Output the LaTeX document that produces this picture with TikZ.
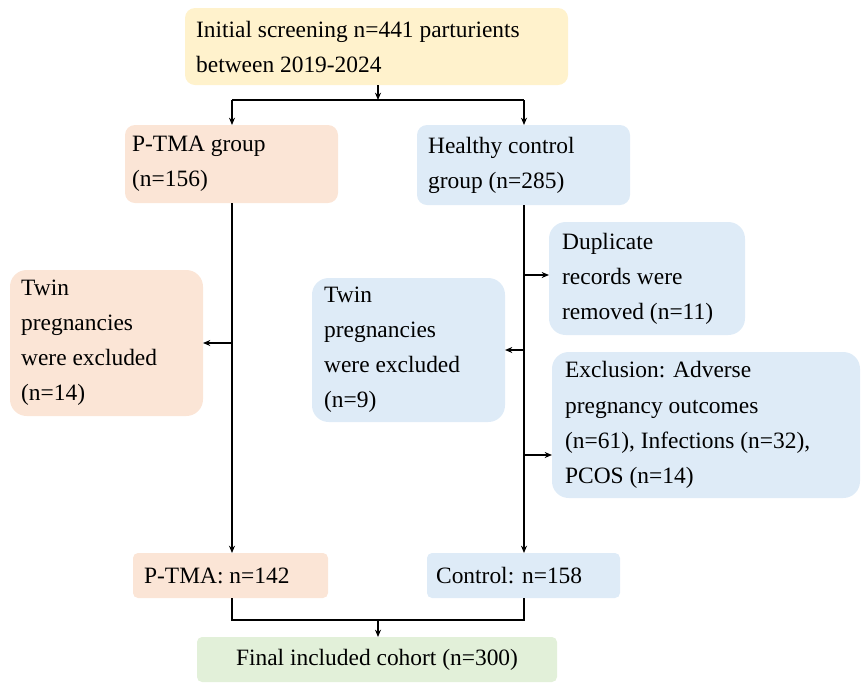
\documentclass[tikz,border=0pt]{standalone}
\usepackage{fontspec}
\setmainfont{Liberation Serif}
\usetikzlibrary{arrows.meta}
\definecolor[named]{BoxYellow}{HTML}{FFF2CC}
\definecolor[named]{BoxPeach}{HTML}{FBE5D6}
\definecolor[named]{BoxBlue}{HTML}{DEEBF7}
\definecolor[named]{BoxGreen}{HTML}{E2F0D9}
\tikzset{
  flowbox/.style={rounded corners=4mm,inner sep=0pt,align=left,anchor=north west},
  flowline/.style={line width=1.1pt},
  flowarrow/.style={flowline,-{Stealth[length=2.2mm,width=1.8mm]}}
}
\newcommand{\boxat}[6]{%
  \fill[#5,rounded corners=4mm] (#1,#2) rectangle (#3,#4);
  \node[flowbox,text width=(#3-#1-26)*0.03cm] (#6) at ({#1+14},{(#2+#4)/2}) [anchor=west] {};
}
\begin{document}
\begin{tikzpicture}[x=0.03cm,y=-0.03cm,font=\fontsize{20}{30}\selectfont]
  \path[use as bounding box] (0,0) rectangle (867,689);

  % boxes
  \fill[BoxYellow,rounded corners=3mm] (185,8) rectangle (568,85);
  \node[anchor=west,align=left] (init) at (192,47) {Initial screening n=441 parturients\\between 2019-2024};
  \fill[BoxPeach,rounded corners=3mm] (125,125) rectangle (338,203);
  \node[anchor=west,align=left] (ptma) at (128,164) {P-TMA group\\(n=156)};
  \fill[BoxBlue,rounded corners=3mm] (417,125) rectangle (630,205);
  \node[anchor=west,align=left] (hc) at (424,165) {Healthy control\\group (n=285)};
  \fill[BoxPeach,rounded corners=5mm] (10,270) rectangle (203,416);
  \node[anchor=west,align=left] (twinl) at (17,343) {Twin\\pregnancies\\were excluded\\(n=14)};
  \fill[BoxBlue,rounded corners=5mm] (549,222) rectangle (745,335);
  \node[anchor=west,align=left] (dup) at (558,279) {Duplicate\\records were\\removed (n=11)};
  \fill[BoxBlue,rounded corners=5mm] (312,278) rectangle (505,422);
  \node[anchor=west,align=left] (twinr) at (320,350) {Twin\\pregnancies\\were excluded\\(n=9)};
  \fill[BoxBlue,rounded corners=5mm] (552,352) rectangle (860,498);
  \node[anchor=west,align=left] (excl) at (561,425) {Exclusion: Adverse\\pregnancy outcomes\\(n=61), Infections (n=32),\\PCOS (n=14)};
  \fill[BoxPeach,rounded corners=1.5mm] (133,553) rectangle (328,598);
  \node[anchor=west] (ptman) at (140,576) {P-TMA: n=142};
  \fill[BoxBlue,rounded corners=1.5mm] (427,553) rectangle (620,598);
  \node[anchor=west] (ctrl) at (432,576) {Control: n=158};
  \fill[BoxGreen,rounded corners=1.5mm] (197,637) rectangle (557,682);
  \node (final) at (377,660) {Final included cohort (n=300)};

  % connectors
  \coordinate (split) at (378,100);
  \draw[flowarrow] (378,85) -- (378,100);
  \draw[flowarrow] (232,100) -- (232,125);
  \draw[flowarrow] (524,100) -- (524,125);
  \draw[flowline] (232,100) -- (524,100);
  \draw[flowarrow] (232,203) -- (232,553);
  \draw[flowarrow] (232,343) -- (203,343);
  \draw[flowarrow] (524,205) -- (524,553);
  \draw[flowarrow] (524,275) -- (549,275);
  \draw[flowarrow] (524,350) -- (505,350);
  \draw[flowarrow] (524,455) -- (552,455);
  \draw[flowline] (232,598) -- (232,620) -- (524,620) -- (524,598);
  \draw[flowarrow] (378,620) -- (378,637);
\end{tikzpicture}
\end{document}
